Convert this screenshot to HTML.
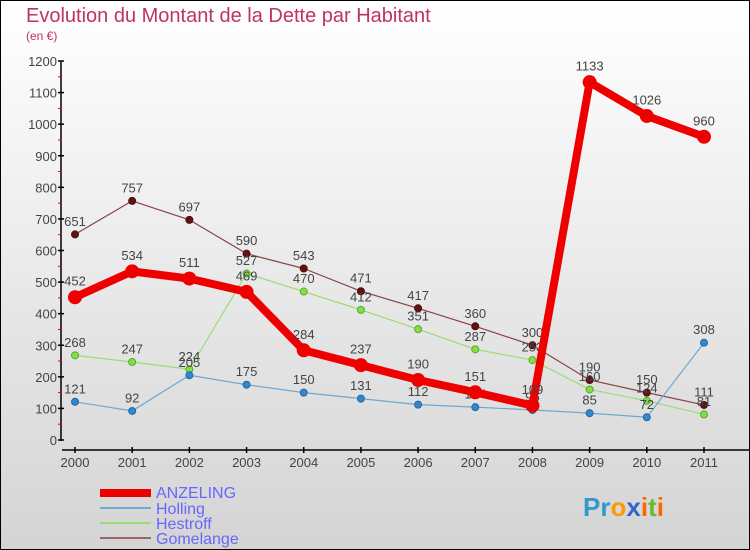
<!DOCTYPE html>
<html><head><meta charset="utf-8"><style>
body{margin:0}
#c{width:750px;height:550px;position:relative;overflow:hidden}
svg text{font-family:"Liberation Sans","DejaVu Sans",sans-serif}
</style></head><body>
<div id="c">
<svg id="s" width="750" height="550" xmlns="http://www.w3.org/2000/svg">
<defs><linearGradient id="bg" x1="0" y1="0" x2="0" y2="1"><stop offset="0" stop-color="#ffffff"/><stop offset="1" stop-color="#d4d4d4"/></linearGradient></defs>
<rect x="0.5" y="0.5" width="749" height="549" fill="url(#bg)" stroke="#000"/>
<text x="26" y="22" font-size="20" fill="#c0306a">Evolution du Montant de la Dette par Habitant</text>
<text x="26" y="40" font-size="12" fill="#c0306a">(en €)</text>
<g id="axes"></g><g id="series"></g>
<g>
<rect x="100" y="489" width="51" height="8" fill="#ee0000"/>
<text x="156" y="498" font-size="16" fill="#6666ff">ANZELING</text>
<line x1="100" y1="508" x2="151" y2="508" stroke="#6fa8d0" stroke-width="2"/>
<text x="156" y="514" font-size="16" fill="#6666ff">Holling</text>
<line x1="100" y1="523" x2="151" y2="523" stroke="#99dd77" stroke-width="2"/>
<text x="156" y="529" font-size="16" fill="#6666ff">Hestroff</text>
<line x1="100" y1="538" x2="151" y2="538" stroke="#996666" stroke-width="2"/>
<text x="156" y="544" font-size="16" fill="#6666ff">Gomelange</text>
</g>
<text x="583" y="516" font-size="26" font-weight="bold" fill="#3399cc">Pr<tspan fill="#ff9900">o</tspan><tspan fill="#3366cc">x</tspan><tspan fill="#ff6600">i</tspan><tspan fill="#66bb33">t</tspan><tspan fill="#ff6600">i</tspan></text>
</svg></div>
<script>
const years=["2000","2001","2002","2003","2004","2005","2006","2007","2008","2009","2010","2011"];
const yTicks=[0,100,200,300,400,500,600,700,800,900,1000,1100,1200];
const anzeling=[452,534,511,469,284,237,190,151,109,1133,1026,960];
const holling=[121,92,205,175,150,131,112,104,95,85,72,308];
const hestroff=[268,247,224,527,470,412,351,287,253,160,124,81];
const gomelange=[651,757,697,590,543,471,417,360,300,190,150,111];
const NS="http://www.w3.org/2000/svg";
const X=i=>75+i*(629/11), Y=v=>440-v*(379/1200);
function mk(t,a,p){const e=document.createElementNS(NS,t);for(const k in a)e.setAttribute(k,a[k]);p.appendChild(e);return e;}
const ax=document.getElementById('axes');
let yl=mk('line',{x1:61,y1:61,x2:61,y2:441,stroke:'#000','stroke-width':1.5},ax);


yTicks.forEach(v=>{
 const l=mk('line',{x1:58,y1:Y(v),x2:64,y2:Y(v),stroke:'#000','stroke-width':1.5},ax);
 
 
 if(v<1200){const m=mk('line',{x1:58,y1:Y(v+50),x2:61,y2:Y(v+50),stroke:'#e00','stroke-width':1},ax);
 
 }
 const t=mk('text',{x:57,y:Y(v)+5,'text-anchor':'end','font-size':13,fill:'#444'},ax);t.textContent=v;
 
 
});
let xl=mk('line',{x1:62,y1:450,x2:750,y2:450,stroke:'#000','stroke-width':1.5},ax);


years.forEach((y,i)=>{
 const l=mk('line',{x1:X(i),y1:447,x2:X(i),y2:453,stroke:'#000','stroke-width':1.5},ax);
 
 
 const t=mk('text',{x:X(i),y:467,'text-anchor':'middle','font-size':13,fill:'#444'},ax);t.textContent=y;
 
 
});
const sg=document.getElementById('series');
function series(name,vals,color,w,r,dot,dotStroke){
 const g=mk('g',{},sg);
 
 
 const p=mk('polyline',{points:vals.map((v,i)=>X(i)+','+Y(v)).join(' '),fill:'none',stroke:color,'stroke-width':w,'stroke-linejoin':'round'},g);
 
 
 vals.forEach((v,i)=>{
  const c=mk('circle',{cx:X(i),cy:Y(v),r:r,fill:dot,stroke:dotStroke,'stroke-width':1},g);
  
  
  const t=mk('text',{x:X(i),y:Y(v)-(r+5),'text-anchor':'middle','font-size':13,fill:'#444'},g);t.textContent=v;
  
  
 });
}
series('gomelange',gomelange,'#884444',1.2,3.5,'#661111','#441111');
series('hestroff',hestroff,'#99dd77',1.2,3.5,'#88dd44','#55aa33');
series('holling',holling,'#6fa8d0',1.2,3.5,'#3388cc','#2266aa');
series('anzeling',anzeling,'#ee0000',8,6.5,'#ee0000','#ee0000');
</script>
</body></html>
